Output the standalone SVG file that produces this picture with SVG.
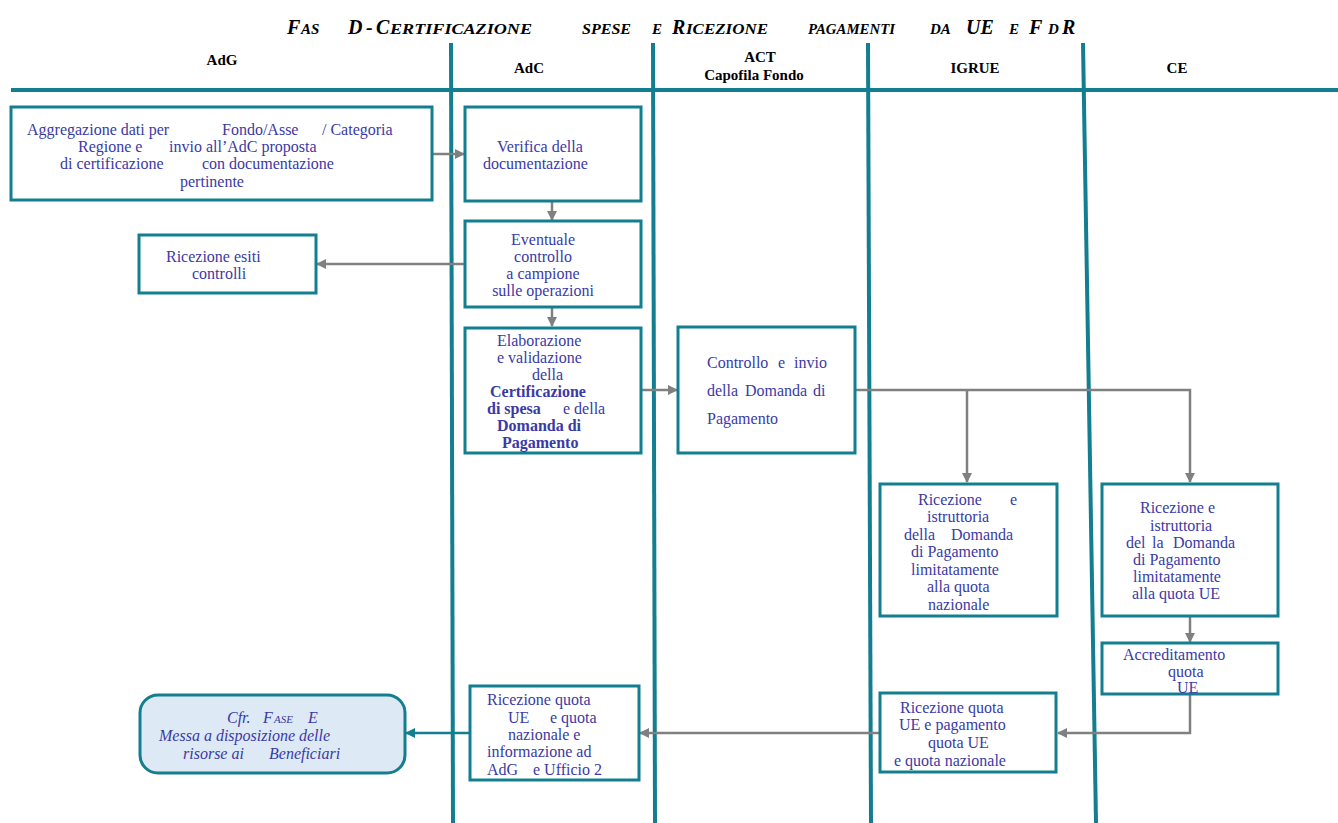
<svg xmlns="http://www.w3.org/2000/svg" width="1338" height="823" viewBox="0 0 1338 823">
<defs>
<style>
.lane{stroke:#127E8F;stroke-width:4;fill:none}
.box{fill:#ffffff;stroke:#127E8F;stroke-width:3}
.t{font-family:"Liberation Serif","Times New Roman",serif;font-size:16px;fill:#3A3AA6}
.b{font-weight:bold}
.i{font-style:italic}
.h{font-family:"Liberation Serif","Times New Roman",serif;font-size:15px;font-weight:bold;fill:#000;text-anchor:middle}
.ttl{font-family:"Liberation Serif","Times New Roman",serif;font-weight:bold;font-style:italic;fill:#000}
.c{stroke:#808080;stroke-width:2.5;fill:none}
.ct{stroke:#127E8F;stroke-width:2.5;fill:none}
.m{text-anchor:middle}
</style>
<marker id="ag" markerWidth="10" markerHeight="10" refX="9" refY="5" orient="auto" markerUnits="userSpaceOnUse"><path d="M0,0 L10,5 L0,10 Z" fill="#808080"/></marker>
<marker id="at" markerWidth="10" markerHeight="10" refX="9" refY="5" orient="auto" markerUnits="userSpaceOnUse"><path d="M0,0 L10,5 L0,10 Z" fill="#127E8F"/></marker>
</defs>
<rect width="1338" height="823" fill="#ffffff"/>

<g id="title" class="ttl">
<text y="34"><tspan x="287" font-size="20">F</tspan><tspan x="301" font-size="15">AS</tspan><tspan x="348" font-size="20">D</tspan><tspan x="366" font-size="20">-</tspan><tspan x="376" font-size="20">C</tspan><tspan x="390" font-size="15" textLength="142" lengthAdjust="spacingAndGlyphs">ERTIFICAZIONE</tspan><tspan x="582" font-size="15" textLength="49" lengthAdjust="spacingAndGlyphs">SPESE</tspan><tspan x="652" font-size="15">E</tspan><tspan x="672" font-size="20">R</tspan><tspan x="686" font-size="15" textLength="82" lengthAdjust="spacingAndGlyphs">ICEZIONE</tspan><tspan x="808" font-size="15" textLength="87" lengthAdjust="spacingAndGlyphs">PAGAMENTI</tspan><tspan x="930" font-size="15">DA</tspan><tspan x="966" font-size="20">UE</tspan><tspan x="1009" font-size="15">E</tspan><tspan x="1029" font-size="20">F</tspan><tspan x="1048" font-size="15">D</tspan><tspan x="1062" font-size="20">R</tspan></text>
</g>

<g id="lanes">
<line class="lane" x1="11" y1="90" x2="1338" y2="90"/>
<line class="lane" x1="451" y1="43" x2="453" y2="823"/>
<line class="lane" x1="653" y1="43" x2="655" y2="823"/>
<line class="lane" x1="868" y1="43" x2="871" y2="823"/>
<line class="lane" x1="1083" y1="43" x2="1096" y2="823"/>
<text class="h" x="222" y="65">AdG</text>
<text class="h" x="529" y="73">AdC</text>
<text class="h" x="760" y="62">ACT</text>
<text class="h" x="754" y="80">Capofila Fondo</text>
<text class="h" x="975" y="73">IGRUE</text>
<text class="h" x="1177" y="73">CE</text>
</g>

<g id="connectors">
<line class="c" x1="432" y1="154" x2="464" y2="154" marker-end="url(#ag)"/>
<line class="c" x1="552" y1="201" x2="552" y2="220" marker-end="url(#ag)"/>
<line class="c" x1="465" y1="264" x2="317" y2="264" marker-end="url(#ag)"/>
<line class="c" x1="552" y1="307" x2="552" y2="326" marker-end="url(#ag)"/>
<line class="c" x1="641" y1="390" x2="677" y2="390" marker-end="url(#ag)"/>
<polyline class="c" points="855,390 1190,390 1190,482" marker-end="url(#ag)"/>
<line class="c" x1="967" y1="390" x2="967" y2="482" marker-end="url(#ag)"/>
<line class="c" x1="1190" y1="617" x2="1190" y2="642" marker-end="url(#ag)"/>
<polyline class="c" points="1190,695 1190,733 1058,733" marker-end="url(#ag)"/>
<line class="c" x1="880" y1="733" x2="640" y2="733" marker-end="url(#ag)"/>
<line class="ct" x1="469" y1="733" x2="406" y2="733" marker-end="url(#at)"/>
</g>

<g id="n-aggregazione">
<rect class="box" x="11" y="107" width="421" height="93"/>
<text class="t" y="135"><tspan x="27">Aggregazione dati per</tspan><tspan x="222">Fondo/Asse</tspan><tspan x="322">/ Categoria</tspan></text>
<text class="t" y="152"><tspan x="78">Regione e</tspan><tspan x="169">invio all’AdC proposta</tspan></text>
<text class="t" y="169"><tspan x="60">di certificazione</tspan><tspan x="202">con  documentazione</tspan></text>
<text class="t" x="180" y="187">pertinente</text>
</g>

<g id="n-verifica">
<rect class="box" x="465" y="107" width="176" height="94"/>
<text class="t" x="497" y="152">Verifica della</text>
<text class="t" x="483" y="169">documentazione</text>
</g>

<g id="n-esiti">
<rect class="box" x="139" y="235" width="177" height="58"/>
<text class="t" x="166" y="262">Ricezione esiti</text>
<text class="t" x="192" y="279">controlli</text>
</g>

<g id="n-eventuale">
<rect class="box" x="465" y="221" width="176" height="86"/>
<text class="t m" x="543" y="245">Eventuale</text>
<text class="t m" x="543" y="262">controllo</text>
<text class="t m" x="543" y="279">a campione</text>
<text class="t m" x="543" y="296">sulle operazioni</text>
</g>

<g id="n-elaborazione">
<rect class="box" x="465" y="328" width="176" height="125"/>
<text class="t" x="497" y="346">Elaborazione</text>
<text class="t" x="497" y="363">e validazione</text>
<text class="t" x="532" y="380">della</text>
<text class="t b" x="490" y="397">Certificazione</text>
<text class="t" y="414"><tspan class="b" x="487">di spesa</tspan><tspan x="563">e della</tspan></text>
<text class="t b" x="497" y="431">Domanda di</text>
<text class="t b" x="502" y="448">Pagamento</text>
</g>

<g id="n-controllo">
<rect class="box" x="678" y="327" width="177" height="126"/>
<text class="t" y="368"><tspan x="707">Controllo</tspan><tspan x="778">e</tspan><tspan x="794">invio</tspan></text>
<text class="t" y="396"><tspan x="707">della</tspan><tspan x="745">Domanda</tspan><tspan x="813">di</tspan></text>
<text class="t" x="707" y="424">Pagamento</text>
</g>

<g id="n-igrue-istruttoria">
<rect class="box" x="880" y="484" width="177" height="132"/>
<text class="t" y="505"><tspan x="918">Ricezione</tspan><tspan x="1010">e</tspan></text>
<text class="t" x="927" y="522">istruttoria</text>
<text class="t" y="540"><tspan x="904">della</tspan><tspan x="951">Domanda</tspan></text>
<text class="t" x="911" y="557">di Pagamento</text>
<text class="t" x="911" y="575">limitatamente</text>
<text class="t" x="927" y="592">alla quota</text>
<text class="t" x="928" y="610">nazionale</text>
</g>

<g id="n-ce-istruttoria">
<rect class="box" x="1102" y="484" width="176" height="132"/>
<text class="t" x="1140" y="513">Ricezione e</text>
<text class="t" x="1150" y="531">istruttoria</text>
<text class="t" y="548"><tspan x="1126">del</tspan><tspan x="1152">la</tspan><tspan x="1173">Domanda</tspan></text>
<text class="t" x="1133" y="565">di Pagamento</text>
<text class="t" x="1133" y="582">limitatamente</text>
<text class="t" x="1132" y="599">alla quota UE</text>
</g>

<g id="n-accreditamento">
<rect class="box" x="1102" y="643" width="176" height="51"/>
<text class="t" x="1123" y="660">Accreditamento</text>
<text class="t" x="1168" y="677">quota</text>
<text class="t" x="1177" y="693">UE</text>
</g>

<g id="n-igrue-pagamento">
<rect class="box" x="880" y="693" width="176" height="79"/>
<text class="t" x="900" y="713">Ricezione quota</text>
<text class="t" x="899" y="730">UE e pagamento</text>
<text class="t" x="928" y="748">quota UE</text>
<text class="t" x="894" y="766">e quota nazionale</text>
</g>

<g id="n-adc-ricezione">
<rect class="box" x="470" y="686" width="169" height="94"/>
<text class="t" x="487" y="705">Ricezione quota</text>
<text class="t" y="723"><tspan x="508">UE</tspan><tspan x="550">e  quota</tspan></text>
<text class="t" x="508" y="740">nazionale e</text>
<text class="t" x="487" y="757">informazione ad</text>
<text class="t" y="775"><tspan x="487">AdG</tspan><tspan x="533">e Ufficio 2</tspan></text>
</g>

<g id="n-cfr">
<rect x="140" y="695" width="265" height="78" rx="18" ry="18" fill="#DDE9F5" stroke="#127E8F" stroke-width="3"/>
<text class="t i" y="723"><tspan x="227">Cfr.</tspan><tspan x="263">F</tspan><tspan x="274" font-size="11">ASE</tspan><tspan x="308">E</tspan></text>
<text class="t i" x="159" y="741">Messa a disposizione delle</text>
<text class="t i" y="759"><tspan x="183">risorse ai</tspan><tspan x="269">Beneficiari</tspan></text>
</g>
</svg>
